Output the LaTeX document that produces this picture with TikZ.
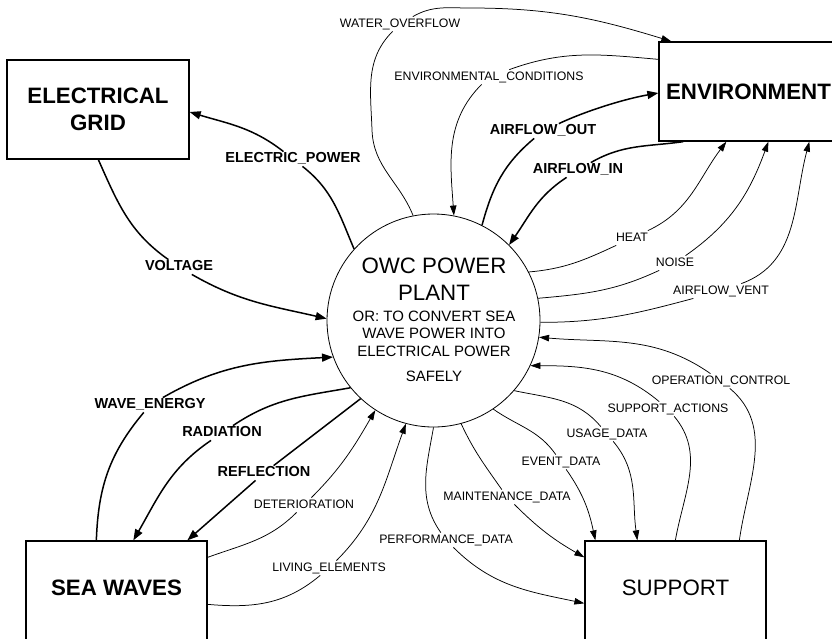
\documentclass[tikz,border=0pt]{standalone}
\usepackage{fontspec}
\setmainfont{Liberation Sans}
\usetikzlibrary{arrows.meta}

\tikzset{
  entity/.style={draw, line width=1.3pt, minimum width=182pt, minimum height=99pt,
    inner sep=0pt, align=center, font=\fontsize{22.3}{27.3}\selectfont\bfseries},
  process/.style={draw, circle, line width=0.8pt, minimum size=213pt, inner sep=0pt},
  ptext/.style={anchor=base, inner sep=0pt},
  heavy/.style={line width=1.5pt, -{Triangle[length=11pt,width=8pt]}},
  light/.style={line width=0.75pt, -{Triangle[length=10pt,width=6.5pt]}},
  blab/.style={inner sep=2pt, outer sep=0pt, text height=0.9em, text depth=0.18em,
    font=\fontsize{14.5}{16}\selectfont\bfseries},
  tlab/.style={inner sep=2pt, outer sep=0pt, text height=0.9em, text depth=0.18em,
    font=\fontsize{12.3}{14}\selectfont},
}

\begin{document}
\begin{tikzpicture}[x=1pt,y=1pt]
\useasboundingbox (0,0) rectangle (832,-638);

% external entities
\node[entity] (grid) at (98,-109.5) {ELECTRICAL\\GRID};
\node[entity, minimum width=179pt] (env) at (748.5,-91.5) {ENVIRONMENT};
\node[entity, minimum width=181pt] (sea) at (116.5,-590.5) {};
\node[font=\fontsize{22.3}{27}\selectfont\bfseries] (seatext) at (116.5,-588) {SEA WAVES};
\node[entity, minimum width=181pt, font=\fontsize{22.3}{27}\selectfont] (sup) at (675.5,-590.5) {};
\node[font=\fontsize{22.3}{27}\selectfont] (suptext) at (675.5,-588) {SUPPORT};

% the process
\node[process] (plant) at (433.5,-320.5) {};
\node[ptext, font=\fontsize{22.3}{24}\selectfont] (p1) at (434,-273.3) {OWC POWER};
\node[ptext, font=\fontsize{22.3}{24}\selectfont] (p2) at (434,-300) {PLANT};
\node[ptext, font=\fontsize{15}{17}\selectfont] (p3) at (434,-321.7) {OR: TO CONVERT SEA};
\node[ptext, font=\fontsize{15}{17}\selectfont] (p4) at (434,-338.6) {WAVE POWER INTO};
\node[ptext, font=\fontsize{15}{17}\selectfont] (p5) at (434,-356.5) {ELECTRICAL POWER};
\node[ptext, font=\fontsize{15}{17}\selectfont] (p6) at (434,-381) {SAFELY};

% flow labels
\node[blab] (lEP) at (293,-159) {ELECTRIC\_POWER};
\node[blab] (lV)  at (179,-267) {VOLTAGE};
\node[tlab] (lWO) at (400,-24)  {WATER\_OVERFLOW};
\node[tlab] (lEC) at (489,-77)  {ENVIRONMENTAL\_CONDITIONS};
\node[blab] (lAO) at (543,-131) {AIRFLOW\_OUT};
\node[blab] (lAI) at (578,-170) {AIRFLOW\_IN};
\node[tlab] (lH)  at (632,-238) {HEAT};
\node[tlab] (lN)  at (675,-263) {NOISE};
\node[tlab] (lAV) at (721,-291) {AIRFLOW\_VENT};
\node[tlab] (lOC) at (721,-381) {OPERATION\_CONTROL};
\node[tlab] (lSA) at (668,-409) {SUPPORT\_ACTIONS};
\node[tlab] (lUD) at (607,-434) {USAGE\_DATA};
\node[tlab] (lED) at (561,-462) {EVENT\_DATA};
\node[tlab] (lMD) at (507,-497) {MAINTENANCE\_DATA};
\node[tlab] (lPD) at (446,-540) {PERFORMANCE\_DATA};
\node[tlab] (lLE) at (329,-568) {LIVING\_ELEMENTS};
\node[tlab] (lDE) at (304,-505) {DETERIORATION};
\node[blab] (lRF) at (264,-473) {REFLECTION};
\node[blab] (lRA) at (222,-433) {RADIATION};
\node[blab] (lWE) at (150,-405) {WAVE\_ENERGY};

% waypoints of the overflow line
\coordinate (wa) at (372,-130);
\coordinate (wb) at (470,-8);

% electrical grid
\draw[heavy] (plant.138.5) to[out=113,in=-38] (lEP) to[out=142,in=-17] ([yshift=-2.5pt]grid.east);
\draw[heavy] ([xshift=92pt]grid.south west) to[out=-66,in=145] (lV) to[out=-30,in=167] (plant.179);

% environment
\draw[light] (plant.101) to[out=112,in=-88] (wa) to[out=92,in=225] (lWO)
  to[out=30,in=180] (wb) to[out=0,in=163] ([xshift=13pt]env.north west);
\draw[light] ([yshift=-18pt]env.north west) to[out=175,in=20] (lEC) to[out=225,in=94] (plant.79);
\draw[heavy] (plant.63.4) to[out=75,in=-140] (lAO) to[out=25,in=190,looseness=0.8] ([yshift=-1.5pt]env.west);
\draw[heavy] ([xshift=25pt]env.south west) to[out=188,in=30] (lAI) to[out=213,in=55] (plant.45);
\draw[light] (plant.27) to[out=5,in=205] (lH) to[out=25,in=233] ([xshift=68pt]env.south west);
\draw[light] (plant.12) to[out=5,in=205] (lN) to[out=35,in=250] ([xshift=110pt]env.south west);
\draw[light] (plant.-1) to[out=0,in=195] (lAV) to[out=20,in=255] ([xshift=151pt]env.south west);

% support
\draw[light] ([xshift=155pt]sup.north west) to[out=82,in=-40] (lOC) to[out=145,in=-5] (plant.-9);
\draw[light] ([xshift=91pt]sup.north west) to[out=80,in=-50] (lSA) to[out=140,in=0] (plant.-25);
\draw[light] (plant.-41) to[out=-12,in=130] (lUD) to[out=-50,in=98] ([xshift=53pt]sup.north west);
\draw[light] (plant.-56) to[out=-35,in=125] (lED) to[out=-55,in=102] ([xshift=11pt]sup.north west);
\draw[light] (plant.-75) to[out=-65,in=125] (lMD) to[out=-45,in=150] ([yshift=-17pt]sup.north west);
\draw[light] (plant.-90) to[out=-100,in=125] (lPD) to[out=-45,in=168] ([yshift=-63pt]sup.north west);

% sea waves
\draw[light] ([yshift=-64pt]sea.north east) to[out=-5,in=220] (lLE) to[out=45,in=250] (plant.-105);
\draw[light] ([yshift=-17pt]sea.north east) to[out=20,in=225] (lDE) to[out=45,in=240] (plant.-123);
\draw[heavy] (plant.-133) -- (lRF) -- ([xshift=162pt]sea.north west);
\draw[heavy] (plant.-141.5) to[out=190,in=34] (lRA) to[out=214,in=60] ([xshift=108pt]sea.north west);
\draw[heavy] ([xshift=71pt]sea.north west) to[out=88,in=230] (lWE) to[out=30,in=183] (plant.-160);
\end{tikzpicture}
\end{document}
